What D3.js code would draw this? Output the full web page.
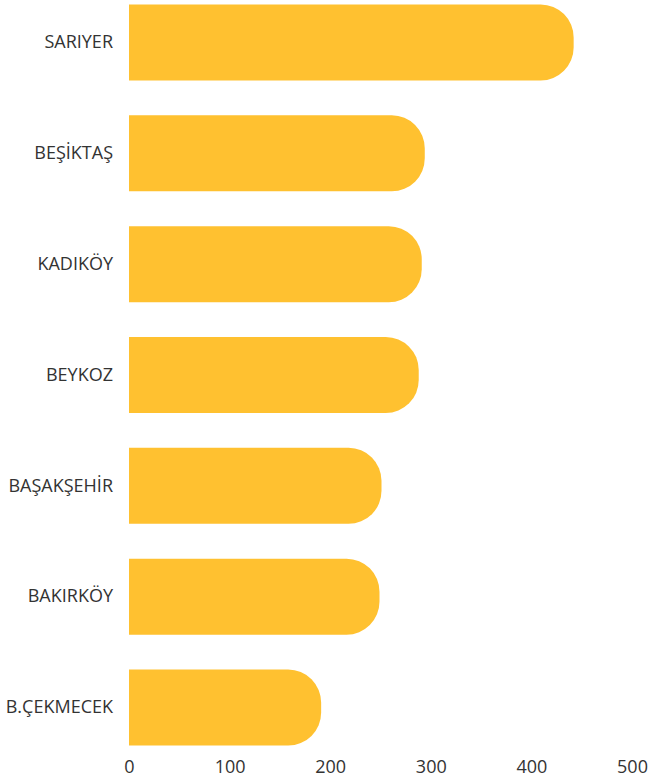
<!DOCTYPE html>
<html>
<head>
<meta charset="utf-8">
<script src="https://cdn.jsdelivr.net/npm/d3@7"></script>
<style>
    body { margin: 0; background: #fff; }
    svg text { font-family: "Open Sans", sans-serif; fill: #333; }
</style>
</head>
<body>
<div id="chart"></div>
<script>
    let districts = ['SARIYER', 'BEŞİKTAŞ', 'KADIKÖY', 'BEYKOZ', 'BAŞAKŞEHİR', 'BAKIRKÖY', 'B.ÇEKMECEK'];
    let counts = [442, 294, 291, 288, 251, 249, 191];
    let xTicks = [0, 100, 200, 300, 400, 500];

    let width = 648, height = 781;
    let margin = { top: 0, right: 16, bottom: 31, left: 129 };

    let svg = d3.select('#chart').append('svg')
        .attr('width', width)
        .attr('height', height);

    let x = d3.scaleLinear()
        .domain([0, 500])
        .range([margin.left, margin.left + 503]);

    let y = d3.scaleBand()
        .domain(districts)
        .range([margin.top, height - margin.bottom])
        .paddingInner(0.314)
        .paddingOuter(0.04);

    // bar with square left end and rounded right end
    function barPath(x0, x1, y0, h) {
        let r = Math.min(33, h / 2, (x1 - x0));
        return `M${x0},${y0}H${x1 - r}A${r},${r} 0 0 1 ${x1},${y0 + r}`
            + `V${y0 + h - r}A${r},${r} 0 0 1 ${x1 - r},${y0 + h}H${x0}Z`;
    }

    svg.append('g')
        .selectAll('path')
        .data(districts)
        .join('path')
        .attr('fill', '#FFC130')
        .attr('d', (d, i) => barPath(x(0), x(counts[i]), y(d), y.bandwidth()));

    let yAxis = svg.append('g')
        .attr('transform', `translate(${margin.left},0)`)
        .call(d3.axisLeft(y).tickSize(0).tickPadding(16));
    yAxis.select('.domain').remove();
    yAxis.selectAll('text')
        .style('font-size', '18px')
        .style('font-family', '"Open Sans", sans-serif')
        .attr('fill', '#333');

    let xAxis = svg.append('g')
        .attr('transform', `translate(0,${height - margin.bottom})`)
        .call(d3.axisBottom(x).tickValues(xTicks).tickSize(0).tickPadding(10));
    xAxis.select('.domain').remove();
    xAxis.selectAll('text')
        .style('font-size', '18px')
        .style('font-family', '"Open Sans", sans-serif')
        .attr('fill', '#333');
</script>
</body>
</html>
